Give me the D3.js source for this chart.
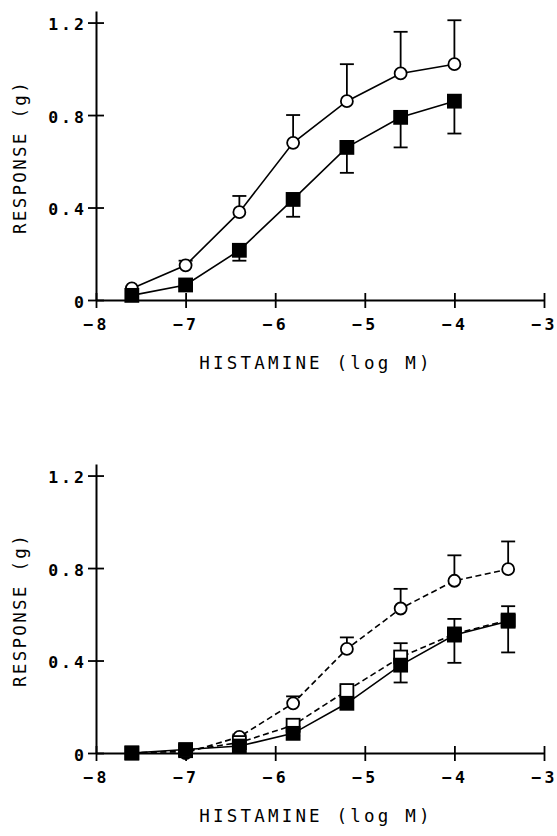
<!DOCTYPE html>
<html>
<head>
<meta charset="utf-8">
<script src="https://cdn.jsdelivr.net/npm/d3@7"></script>
<style>
  body { margin: 0; background: #fff; }
  text { font-family: 'DejaVu Sans Mono', monospace; fill: #000; }
</style>
</head>
<body>
<svg class="histamine-ch"></svg>
<script>
"use strict";

// top panel: log dose of histamine
var dosesTop = [-7.6, -7, -6.4, -5.8, -5.2, -4.6, -4];
var circlesTop = [0.05, 0.15, 0.38, 0.68, 0.86, 0.98, 1.02];
var circlesTopErr = [0, 0.02, 0.07, 0.12, 0.16, 0.18, 0.19];
var squaresTop = [0.02, 0.065, 0.215, 0.435, 0.66, 0.79, 0.86];
var squaresTopErr = [0, 0.01, 0.045, 0.075, 0.11, 0.13, 0.14];

// bottom panel
var dosesBottom = [-7.6, -7, -6.4, -5.8, -5.2, -4.6, -4, -3.4];
var circlesBottom = [0, 0, 0.07, 0.215, 0.45, 0.625, 0.745, 0.795];
var circlesBottomErr = [0, 0, 0.01, 0.03, 0.05, 0.085, 0.11, 0.12];
var openBottom = [0, 0.01, 0.045, 0.12, 0.27, 0.415, 0.515, 0.575];
var openBottomErr = [0, 0, 0, 0.02, 0.02, 0.06, 0.065, 0.06];
var filledBottom = [0, 0.015, 0.03, 0.085, 0.215, 0.38, 0.51, 0.57];
var filledBottomErr = [0, 0, 0, 0.01, 0.02, 0.075, 0.12, 0.135];

var xTicks = [-8, -7, -6, -5, -4, -3];
var yTicks = [0, 0.4, 0.8, 1.2];
var xTitle = 'HISTAMINE (log M)';
var yTitle = 'RESPONSE (g)';

var svg = d3.select('.histamine-ch')
  .attr('width', 557)
  .attr('height', 836);

var x = d3.scaleLinear().domain([-8, -3]).range([96, 544]);

function panel(top, series) {
  var y = d3.scaleLinear().domain([0, 1.25]).range([top + 289, top]);
  var g = svg.append('g');

  var xAxis = g.append('g')
    .attr('transform', 'translate(0,' + y(0) + ')')
    .call(d3.axisBottom(x).tickValues(xTicks).tickSizeOuter(0)
      .tickFormat(function(d){ return '\u2212' + Math.abs(d); }));
  xAxis.selectAll('.tick line').attr('y1', -7).attr('y2', 8);
  xAxis.selectAll('.tick text').attr('y', 30).attr('dy', 0).attr('x', 0);

  var yAxis = g.append('g')
    .attr('transform', 'translate(' + x(-8) + ',0)')
    .call(d3.axisLeft(y).tickValues(yTicks).tickSizeOuter(0)
      .tickFormat(function(d){ return d === 0 ? '0' : d3.format('.1f')(d); }));
  yAxis.selectAll('.tick line').attr('x1', -8).attr('x2', 8);
  yAxis.selectAll('.tick text').attr('x', -9).attr('dy', '0.45em');

  g.selectAll('.domain').attr('stroke-width', 2);
  g.selectAll('.tick line').attr('stroke-width', 1.8);
  g.selectAll('g > g').attr('font-family', null).attr('font-size', null);
  g.selectAll('.tick text')
    .style('font-size', '16.5px').style('font-weight', 'bold').style('letter-spacing', '3px');

  g.append('text')
    .attr('x', 316).attr('y', top + 358)
    .attr('text-anchor', 'middle')
    .style('font-size', '17.5px').style('letter-spacing', '3.2px')
    .text(xTitle);

  g.append('text')
    .attr('transform', 'translate(26,' + (top + 146) + ') rotate(-90)')
    .attr('text-anchor', 'middle')
    .style('font-size', '17.5px').style('letter-spacing', '2.3px')
    .text(yTitle);

  var line = d3.line()
    .x(function(d){ return x(d.dose); })
    .y(function(d){ return y(d.value); });

  series.forEach(function(s){
    var pts = s.doses.map(function(d, i){ return { dose: d, value: s.values[i], err: s.err[i] }; });

    g.append('path')
      .datum(pts)
      .attr('d', line)
      .attr('fill', 'none')
      .attr('stroke', '#000')
      .attr('stroke-width', 1.6)
      .attr('stroke-dasharray', s.dashed ? '6,3.5' : null);

    var bars = g.append('g').selectAll('g')
      .data(pts.filter(function(d){ return d.err > 0; }))
      .enter().append('g')
        .attr('stroke', '#000')
        .attr('stroke-width', 1.8);
    bars.append('line')
      .attr('x1', function(d){ return x(d.dose); })
      .attr('x2', function(d){ return x(d.dose); })
      .attr('y1', function(d){ return y(d.value); })
      .attr('y2', function(d){ return y(d.value + s.dir * d.err); });
    bars.append('line')
      .attr('x1', function(d){ return x(d.dose) - 7; })
      .attr('x2', function(d){ return x(d.dose) + 7; })
      .attr('y1', function(d){ return y(d.value + s.dir * d.err); })
      .attr('y2', function(d){ return y(d.value + s.dir * d.err); });

    s.points = pts;
  });

  series.forEach(function(s){
    var marks = g.append('g').selectAll('.mark')
      .data(s.points)
      .enter();
    if (s.shape === 'circle') {
      marks.append('circle')
        .attr('cx', function(d){ return x(d.dose); })
        .attr('cy', function(d){ return y(d.value); })
        .attr('r', 6)
        .attr('fill', '#fff')
        .attr('stroke', '#000')
        .attr('stroke-width', 1.8);
    } else {
      marks.append('rect')
        .attr('x', function(d){ return x(d.dose) - 6.5; })
        .attr('y', function(d){ return y(d.value) - 6.5; })
        .attr('width', 13)
        .attr('height', 13)
        .attr('fill', s.shape === 'filled' ? '#000' : '#fff')
        .attr('stroke', '#000')
        .attr('stroke-width', 1.8);
    }
  });
}

panel(11, [
  { doses: dosesTop, values: circlesTop, err: circlesTopErr, dir: 1, shape: 'circle', dashed: false },
  { doses: dosesTop, values: squaresTop, err: squaresTopErr, dir: -1, shape: 'filled', dashed: false }
]);

panel(464, [
  { doses: dosesBottom, values: circlesBottom, err: circlesBottomErr, dir: 1, shape: 'circle', dashed: true },
  { doses: dosesBottom, values: openBottom, err: openBottomErr, dir: 1, shape: 'open', dashed: true },
  { doses: dosesBottom, values: filledBottom, err: filledBottomErr, dir: -1, shape: 'filled', dashed: false }
]);
</script>
</body>
</html>
